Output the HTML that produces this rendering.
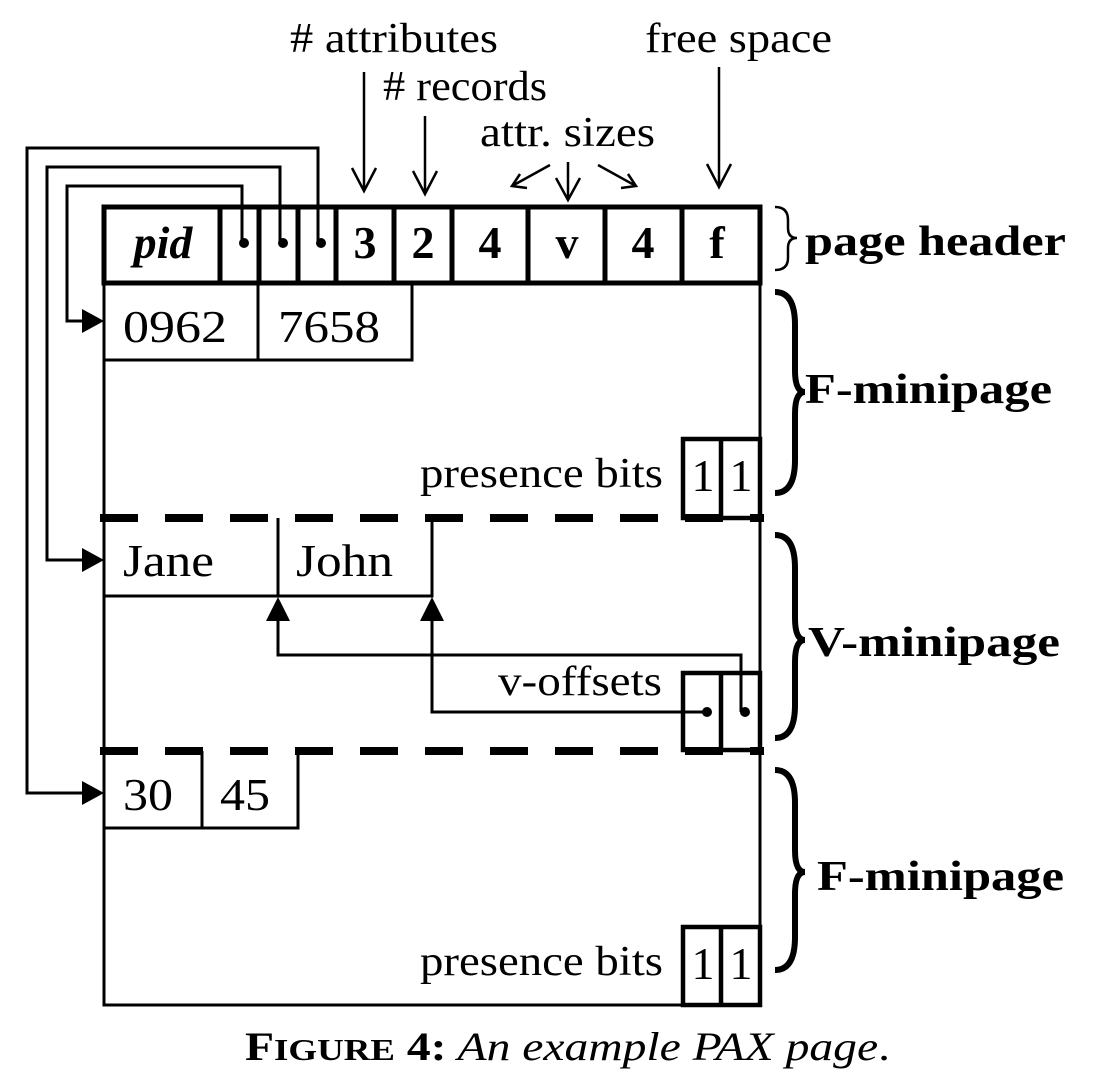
<!DOCTYPE html>
<html><head><meta charset="utf-8"><style>
html,body{margin:0;padding:0;background:#fff;}
svg{display:block;font-family:"Liberation Serif",serif;}
</style></head><body>
<svg width="1096" height="1086" viewBox="0 0 1096 1086" xmlns="http://www.w3.org/2000/svg">
<!-- top labels -->
<g font-size="42" lengthAdjust="spacingAndGlyphs">
<text x="290" y="52" textLength="208" lengthAdjust="spacingAndGlyphs"># attributes</text>
<text x="383" y="100" textLength="164" lengthAdjust="spacingAndGlyphs"># records</text>
<text x="480" y="146" textLength="175" lengthAdjust="spacingAndGlyphs">attr. sizes</text>
<text x="645" y="52" textLength="187" lengthAdjust="spacingAndGlyphs">free space</text>
</g>
<g stroke="#000" stroke-width="2.5" fill="none">
<path d="M364,72 V191 M352,168 L364,191 L376,168"/>
<path d="M425,116 V194 M413,171 L425,194 L437,171"/>
<path d="M568,162 V200 M556,178 L568,200 L580,178"/>
<path d="M550,165 L512,186 M520,174 L512,186 L527,188"/>
<path d="M598,165 L636,186 M621,188 L636,186 L628,174"/>
<path d="M719,67 V187 M707,164 L719,187 L731,164"/>
</g>
<!-- pointer lines -->
<g stroke="#000" stroke-width="3" fill="none">
<path d="M242,243 V186 H67 V321 H90"/>
<path d="M280,243 V167 H47 V560 H90"/>
<path d="M318,243 V148 H27 V793 H90"/>
</g>
<!-- page box -->
<rect x="104" y="283" width="656" height="722" fill="none" stroke="#000" stroke-width="3"/>
<!-- header -->
<g>
<rect x="104" y="207" width="656" height="76" fill="none" stroke="#000" stroke-width="5"/>
<g stroke="#000" stroke-width="5">
<line x1="220" y1="207" x2="220" y2="283"/><line x1="259" y1="207" x2="259" y2="283"/>
<line x1="298" y1="207" x2="298" y2="283"/><line x1="336" y1="207" x2="336" y2="283"/>
<line x1="394" y1="207" x2="394" y2="283"/><line x1="452" y1="207" x2="452" y2="283"/>
<line x1="528" y1="207" x2="528" y2="283"/><line x1="605" y1="207" x2="605" y2="283"/>
<line x1="682" y1="207" x2="682" y2="283"/>
</g>
<circle cx="244" cy="243" r="5" fill="#000"/><circle cx="283" cy="243" r="5" fill="#000"/><circle cx="321" cy="243" r="5" fill="#000"/>
<g font-size="46" font-weight="bold" text-anchor="middle">
<text x="163" y="258" font-style="italic">pid</text>
<text x="365" y="258">3</text>
<text x="423" y="258">2</text>
<text x="490" y="258">4</text>
<text x="567" y="258">v</text>
<text x="643" y="258">4</text>
<text x="717" y="258">f</text>
</g>
</g>
<!-- F minipage 1 -->
<g>
<path d="M104,360 H412 V283 M258,283 V360" stroke="#000" stroke-width="3" fill="none"/>
<text x="123" y="342" font-size="46" textLength="104" lengthAdjust="spacingAndGlyphs">0962</text>
<text x="278" y="342" font-size="46" textLength="102" lengthAdjust="spacingAndGlyphs">7658</text>
<text x="420" y="487" font-size="42" textLength="243" lengthAdjust="spacingAndGlyphs">presence bits</text>
<rect x="683" y="439" width="77" height="79" fill="none" stroke="#000" stroke-width="4.5"/>
<line x1="721" y1="439" x2="721" y2="518" stroke="#000" stroke-width="4.5"/>
<text x="703" y="491" font-size="46" text-anchor="middle">1</text>
<text x="741" y="491" font-size="46" text-anchor="middle">1</text>
</g>
<line x1="100" y1="518" x2="764" y2="518" stroke="#000" stroke-width="8" stroke-dasharray="38,27"/>
<!-- V minipage -->
<g>
<path d="M104,596 H432 V518 M278,518 V596" stroke="#000" stroke-width="3" fill="none"/>
<text x="123" y="576" font-size="46" textLength="91" lengthAdjust="spacingAndGlyphs">Jane</text>
<text x="296" y="576" font-size="46" textLength="97" lengthAdjust="spacingAndGlyphs">John</text>
<path d="M741,712 V655 H278 V600" stroke="#000" stroke-width="3" fill="none"/>
<path d="M707,712 H432 V600" stroke="#000" stroke-width="3" fill="none"/>
<path d="M266,621 L278,597 L290,621 z M420,621 L432,597 L444,621 z" fill="#000"/>
<text x="498" y="695" font-size="42" textLength="164" lengthAdjust="spacingAndGlyphs">v-offsets</text>
<rect x="683" y="673" width="77" height="77" fill="none" stroke="#000" stroke-width="4.5"/>
<line x1="721" y1="673" x2="721" y2="750" stroke="#000" stroke-width="4.5"/>
<circle cx="707" cy="712" r="5" fill="#000"/><circle cx="745" cy="712" r="5" fill="#000"/>
</g>
<line x1="100" y1="751" x2="764" y2="751" stroke="#000" stroke-width="8" stroke-dasharray="38,27"/>
<!-- F minipage 2 -->
<g>
<path d="M104,828 H298 V751 M202,751 V828" stroke="#000" stroke-width="3" fill="none"/>
<text x="123" y="810" font-size="46" textLength="50" lengthAdjust="spacingAndGlyphs">30</text>
<text x="220" y="810" font-size="46" textLength="50" lengthAdjust="spacingAndGlyphs">45</text>
<text x="420" y="975" font-size="42" textLength="243" lengthAdjust="spacingAndGlyphs">presence bits</text>
<rect x="683" y="927" width="77" height="78" fill="none" stroke="#000" stroke-width="4.5"/>
<line x1="721" y1="927" x2="721" y2="1005" stroke="#000" stroke-width="4.5"/>
<text x="703" y="979" font-size="46" text-anchor="middle">1</text>
<text x="741" y="979" font-size="46" text-anchor="middle">1</text>
</g>
<!-- pointer arrowheads -->
<path d="M82,309 L104,321 L82,333 z M82,548 L104,560 L82,572 z M82,781 L104,793 L82,805 z" fill="#000"/>
<!-- braces -->
<g stroke="#000" fill="none">
<path d="M775,207 Q788,207 788,220 L788,228 Q788,238 797,238 Q788,238 788,248 L788,258 Q788,270 775,270" stroke-width="2.5"/>
<path d="M775,292 Q795,292 795,325 L795,370 Q795,392 805,392 Q795,392 795,414 L795,460 Q795,493 775,493" stroke-width="6"/>
<path d="M775,535 Q795,535 795,568 L795,618 Q795,640 805,640 Q795,640 795,662 L795,705 Q795,738 775,738" stroke-width="6"/>
<path d="M775,770 Q795,770 795,803 L795,850 Q795,872 805,872 Q795,872 795,894 L795,937 Q795,970 775,970" stroke-width="6"/>
</g>
<g font-size="42" font-weight="bold">
<text x="805" y="255" textLength="261" lengthAdjust="spacingAndGlyphs">page header</text>
<text x="805" y="403" textLength="247" lengthAdjust="spacingAndGlyphs">F-minipage</text>
<text x="808" y="656" textLength="252" lengthAdjust="spacingAndGlyphs">V-minipage</text>
<text x="817" y="890" textLength="247" lengthAdjust="spacingAndGlyphs">F-minipage</text>
</g>
<!-- caption -->
<text x="245" y="1060" font-size="40" textLength="645" lengthAdjust="spacingAndGlyphs"><tspan font-weight="bold">F</tspan><tspan font-weight="bold" font-size="31">IGURE</tspan><tspan font-weight="bold"> 4:</tspan><tspan font-style="italic"> An example PAX page</tspan>.</text>
</svg>
</body></html>
